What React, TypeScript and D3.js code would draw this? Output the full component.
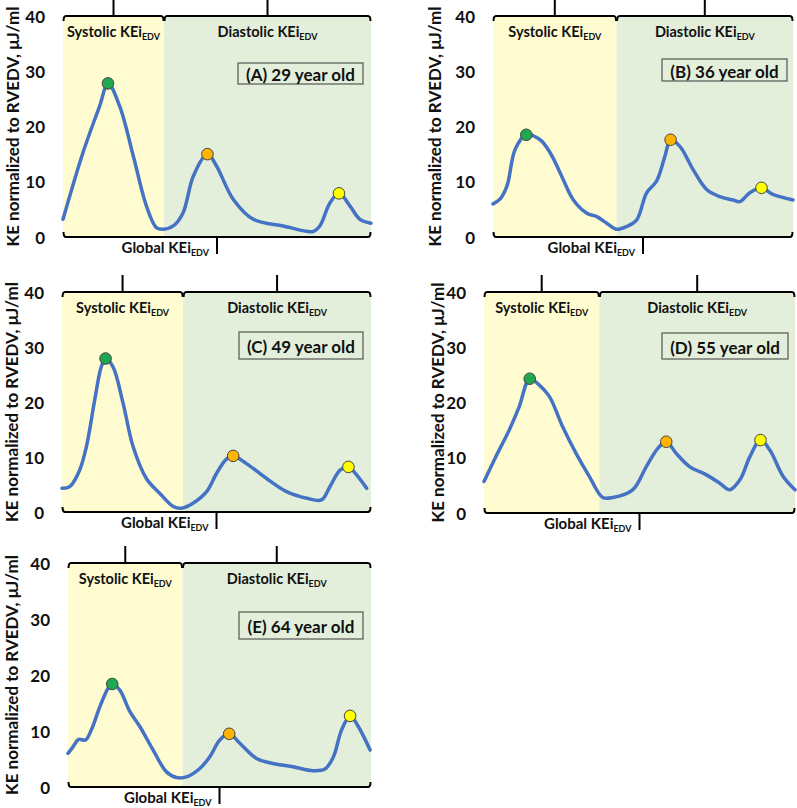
import React from "react";
import * as d3 from "d3";

// ---------- data (x: % of cardiac cycle, y: KE normalized to RVEDV, µJ/ml) ----------
const panelLetters = ["A", "B", "C", "D", "E"];
const ages = [29, 36, 49, 55, 64];
const yTicks = [0, 10, 20, 30, 40];

const xA = [0, 6.5, 11.9, 14.6, 18.4, 22.8, 27.1, 30.3, 32.5, 35.8, 39.0, 42.3, 46.9, 49.8, 55.3, 61.8, 71.5, 81.3, 83.4, 86.7, 89.6, 93.2, 96.4, 100];
const yA = [3.2, 15.3, 23.7, 27.8, 23.7, 14.7, 5.6, 1.7, 1.4, 2.0, 4.4, 11, 15.0, 12.9, 6.8, 3.2, 2.0, 1.0, 2.0, 6.2, 7.9, 5.6, 3.2, 2.5];
const peaksA = [3, 12, 20];

const xB = [0, 2.4, 4.7, 7.4, 11.1, 15.7, 19.1, 22.4, 26.8, 31.3, 34.6, 37.9, 41.2, 44.6, 47.9, 51.2, 54.5, 57.3, 59.2, 62.3, 66.7, 71.2, 75.6, 80.0, 82.3, 85.6, 89.5, 93.3, 100];
const yB = [6.0, 6.9, 9.3, 15.9, 18.5, 17.6, 15.2, 11.6, 6.7, 4.3, 3.7, 2.5, 1.4, 1.9, 3.1, 8.0, 10.1, 14.6, 17.6, 16.4, 12.2, 8.6, 7.3, 6.7, 6.4, 8.0, 8.9, 7.7, 6.7];
const peaksB = [4, 18, 26];

const xC = [0, 2.5, 5.7, 7.9, 10.6, 12.7, 14.1, 16.5, 19.8, 23.0, 27.3, 31.6, 36.0, 38.7, 42.4, 46.8, 50.0, 53.2, 55.4, 59.7, 66.2, 72.7, 79.2, 84.0, 86.7, 90.0, 92.7, 95.4, 98.6];
const yC = [4.3, 4.6, 7.6, 11.9, 20.4, 26.4, 27.9, 26.4, 19.7, 11.9, 6.1, 3.4, 1.0, 0.7, 1.6, 3.7, 7.0, 9.6, 10.2, 8.8, 6.1, 3.7, 2.5, 2.2, 4.6, 7.6, 8.2, 6.7, 4.3];
const peaksC = [6, 18, 26];

const xD = [0, 3.8, 8.1, 11.3, 14.7, 17.7, 21.0, 25.3, 29.6, 33.9, 38.2, 41.4, 47.8, 52.2, 55.9, 58.6, 61.8, 66.1, 71.5, 75.8, 79.0, 82.3, 85.5, 88.9, 91.9, 96.2, 100];
const yD = [5.7, 10.2, 15.0, 19.2, 24.3, 23.2, 21.1, 15.6, 10.8, 6.6, 2.8, 2.8, 4.2, 8.4, 11.7, 12.9, 10.8, 8.4, 6.9, 5.4, 4.2, 6.0, 10.2, 13.2, 11.4, 6.6, 4.2];
const peaksD = [4, 15, 23];

const xE = [0, 1.7, 3.5, 5.8, 7.7, 10.5, 13.2, 14.6, 17.1, 20.4, 23.7, 28.1, 32.5, 35.8, 39.1, 43.5, 46.8, 50.1, 53.2, 56.7, 62.2, 67.7, 74.3, 80.9, 84.8, 87.6, 90.3, 93.1, 95.8, 99.7];
const yE = [6.0, 7.2, 8.5, 8.4, 10.2, 14.3, 17.6, 18.4, 17.3, 13.5, 10.8, 6.6, 2.7, 1.7, 1.8, 3.3, 5.4, 8.4, 9.5, 7.8, 5.1, 4.2, 3.6, 2.9, 3.2, 5.4, 10.2, 12.7, 10.8, 6.6];
const peaksE = [7, 18, 27];

// end of systole, % of cycle
const systoleEnd = [32.8, 41.2, 39.2, 37.1, 37.8];

const seriesX = [xA, xB, xC, xD, xE];
const seriesY = [yA, yB, yC, yD, yE];
const seriesPeaks = [peaksA, peaksB, peaksC, peaksD, peaksE];

// ---------- layout / style ----------
const layouts = [
  { left: 63, right: 371, top: 16, bottom: 237, box: [238, 63, 125, 21], titleX: 12 },
  { left: 493, right: 793, top: 16, bottom: 237, box: [662, 59, 125, 22], titleX: 434 },
  { left: 62, right: 371, top: 292, bottom: 512, box: [239, 332, 124, 27], titleX: 11 },
  { left: 484, right: 795, top: 292, bottom: 513, box: [662, 333, 126, 26], titleX: 437 },
  { left: 68, right: 371, top: 563, bottom: 787, box: [239, 612, 124, 27], titleX: 11 },
];
const peakColors = ["#1FA84F", "#FFB400", "#FFFF00"];
const FONT = "Lato, 'Liberation Sans', sans-serif";
const LINE = "#4472C4";

function Label({ x, y, main, sub, size, subSize, anchor }: any) {
  return (
    <text x={x} y={y} textAnchor={anchor} fontFamily={FONT} fontWeight="bold" fontSize={size} fill="#111">
      {main}
      <tspan fontSize={subSize} dy={3}>{sub}</tspan>
    </text>
  );
}

function Panel({ i }: { i: number }) {
  const L = layouts[i];
  const xs = seriesX[i];
  const ys = seriesY[i];
  const x = d3.scaleLinear().domain([0, 100]).range([L.left, L.right]);
  const y = d3.scaleLinear().domain([0, 40]).range([L.bottom, L.top]);
  const pts: [number, number][] = xs.map((v, k) => [v, ys[k]]);
  const line = d3
    .line<[number, number]>()
    .x((d) => x(d[0]))
    .y((d) => y(d[1]))
    .curve(d3.curveCatmullRom.alpha(0.5));
  const bx = x(systoleEnd[i]);
  const top = y(40);
  const bot = y(0);
  const sysC = (L.left + bx) / 2;
  const diaC = (bx + L.right) / 2;
  const midC = (L.left + L.right) / 2;
  const e = 5;
  const topSeg = (a: number, b: number) =>
    `M${a + 0.5},${top + e} Q${a + 0.5},${top} ${a + 3},${top} L${b - 3},${top} Q${b - 0.5},${top} ${b - 0.5},${top + e}`;
  const botSeg = `M${L.left + 0.5},${bot - e} Q${L.left + 0.5},${bot} ${L.left + 3},${bot} L${L.right - 3},${bot} Q${L.right - 0.5},${bot} ${L.right - 0.5},${bot - e}`;
  const [bxX, bxY, bxW, bxH] = L.box;
  const midY = (top + bot) / 2;
  return (
    <g>
      <rect x={L.left} y={top} width={bx - L.left} height={bot - top} fill="#FFFCD2" />
      <rect x={bx} y={top} width={L.right - bx} height={bot - top} fill="#E3EFDA" />
      {/* brackets */}
      <path d={topSeg(L.left, bx)} fill="none" stroke="#000" strokeWidth={2} />
      <path d={topSeg(bx, L.right)} fill="none" stroke="#000" strokeWidth={2} />
      <line x1={sysC} x2={sysC} y1={top} y2={top - 17} stroke="#000" strokeWidth={2} />
      <line x1={diaC} x2={diaC} y1={top} y2={top - 17} stroke="#000" strokeWidth={2} />
      <path d={botSeg} fill="none" stroke="#000" strokeWidth={2} />
      <line x1={midC} x2={midC} y1={bot} y2={bot + 17} stroke="#000" strokeWidth={2} />
      {/* labels */}
      <Label x={sysC} y={top + 21} main="Systolic KEi" sub="EDV" size={14.5} subSize={9} anchor="middle" />
      <Label x={diaC} y={top + 21} main="Diastolic KEi" sub="EDV" size={14.5} subSize={9} anchor="middle" />
      <Label x={midC - 8} y={bot + 16} main="Global KEi" sub="EDV" size={15} subSize={9} anchor="end" />
      {/* y ticks */}
      {yTicks.map((t) => (
        <text key={t} x={L.left - 18} y={y(t)} textAnchor="end" dominantBaseline="central" fontFamily={FONT} fontWeight="bold" fontSize={17} fill="#111">
          {t}
        </text>
      ))}
      <text
        x={L.titleX}
        y={midY}
        transform={`rotate(-90 ${L.titleX} ${midY})`}
        textAnchor="middle"
        dominantBaseline="central"
        fontFamily={FONT}
        fontWeight="bold"
        fontSize={17}
        fill="#111"
      >
        KE normalized to RVEDV, μJ/ml
      </text>
      {/* age box */}
      <rect x={bxX} y={bxY} width={bxW} height={bxH} fill="none" stroke="#555" strokeWidth={1.2} />
      <text x={bxX + bxW / 2} y={bxY + bxH / 2 + 1} textAnchor="middle" dominantBaseline="central" fontFamily={FONT} fontWeight="bold" fontSize={17} fill="#111">
        ({panelLetters[i]}) {ages[i]} year old
      </text>
      {/* curve */}
      <path d={line(pts) || ""} fill="none" stroke={LINE} strokeWidth={3.5} strokeLinecap="round" strokeLinejoin="round" />
      {seriesPeaks[i].map((k, j) => (
        <circle key={j} cx={x(xs[k])} cy={y(ys[k])} r={5.8} fill={peakColors[j]} stroke="#444" strokeWidth={1} />
      ))}
    </g>
  );
}

export default function App() {
  return (
    <svg width={797} height={808} style={{ position: "absolute", left: 0, top: 0, background: "#fff" }}>
      <rect width={797} height={808} fill="#fff" />
      {panelLetters.map((_, i) => (
        <Panel key={i} i={i} />
      ))}
    </svg>
  );
}
